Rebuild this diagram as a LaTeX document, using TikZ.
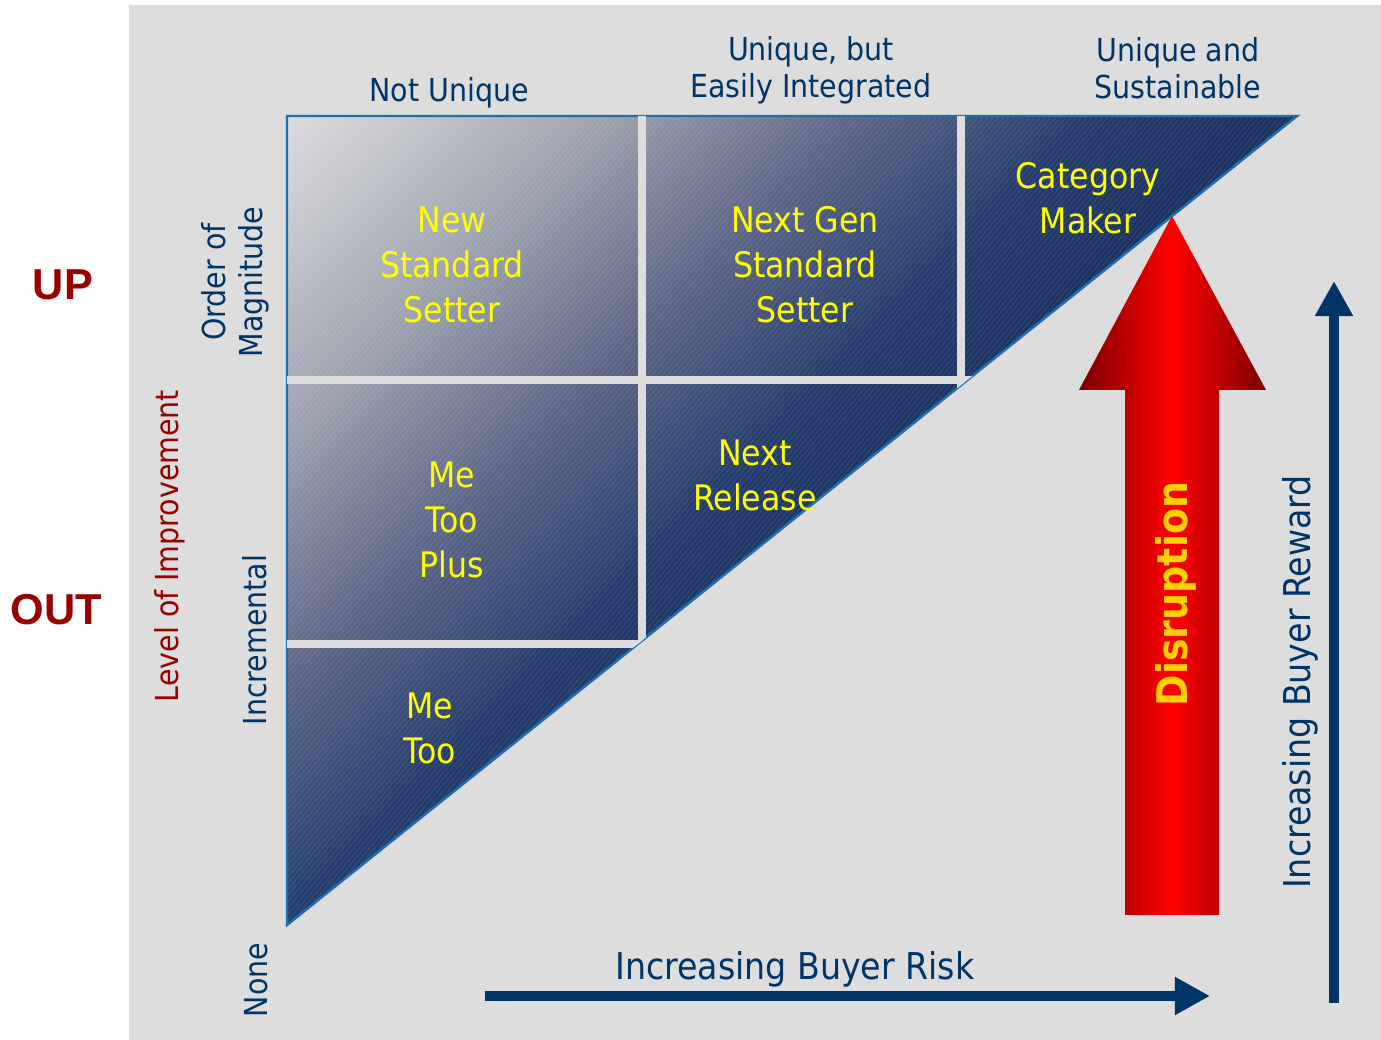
\documentclass[tikz,border=0pt]{standalone}
\usepackage{fontspec}
\IfFontExistsTF{DejaVu Sans Condensed}
  {\setmainfont{DejaVu Sans Condensed}}
  {\setmainfont{DejaVu Sans}}
\newfontfamily\headfont{Liberation Sans}
\usetikzlibrary{arrows.meta}
\definecolor{PanelGray}{HTML}{DDDDDD}
\definecolor{AxisNavy}{HTML}{003366}
\definecolor{LevelRed}{HTML}{990000}
\definecolor{EdgeBlue}{HTML}{1F6FAA}
\definecolor{CellYellow}{HTML}{FFFF00}
\definecolor{DisruptGold}{HTML}{FFD000}
\definecolor{ShadeA}{HTML}{DCDCDE}
\definecolor{ShadeB}{HTML}{A2A6B2}
\definecolor{ShadeC}{HTML}{5F6888}
\definecolor{ShadeD}{HTML}{253D6C}
\definecolor{ShadeE}{HTML}{1A3363}
\definecolor{ArrowDark}{HTML}{7A0000}
\definecolor{ArrowBright}{HTML}{FF0000}
\pgfdeclarehorizontalshading{cellfade}{100bp}{color(0bp)=(ShadeA);
  color(25bp)=(ShadeA); color(39.5bp)=(ShadeB); color(52bp)=(ShadeC);
  color(63.7bp)=(ShadeD); color(72bp)=(ShadeE); color(100bp)=(ShadeE)}

\begin{document}
\begin{tikzpicture}[x=0.01cm,y=-0.01cm,
    cell/.style={text=CellYellow,align=center,inner sep=0pt,
      font=\fontsize{10}{12.8}\selectfont},
    axislabel/.style={text=AxisNavy,align=center,inner sep=0pt,
      font=\fontsize{9}{10.4}\selectfont},
    trend/.style={text=AxisNavy,inner sep=0pt,
      font=\fontsize{10.5}{12}\selectfont},
    level/.style={text=LevelRed,inner sep=0pt,
      font=\headfont\bfseries\fontsize{12.3}{14}\selectfont},
    hatch/.style={draw=white,line width=0.3pt,draw opacity=0.09},
    gap/.style={draw=PanelGray,line width=2.3pt},
    trendarrow/.style={draw=AxisNavy,line width=2.85pt,
      -{Triangle[length=10pt,width=10.2pt]}}
  ]
  \useasboundingbox (0,0) rectangle (1381,1040);
  \fill[PanelGray] (129,5) rectangle (1381,1040);

  \coordinate (tl) at (287,116);
  \coordinate (tr) at (1297,116);
  \coordinate (bl) at (287,925);

  % staircase of cells
  \begin{scope}
    \clip (tl) -- (tr) -- (bl) -- cycle;
    \shade[shading=cellfade,transform canvas={rotate around={-45:(tl)}}]
      (287,-620) rectangle (1017,850);
    \foreach \hx in {-392,-386.8,...,1297}
      \draw[hatch] (\hx,925) -- ++(679,-809);
  \end{scope}
  \draw[EdgeBlue,line width=0.7pt] (tl) -- (tr) -- (bl) -- cycle;
  \begin{scope}
    \clip (tl) -- (tr) -- (bl) -- cycle;
    \draw[gap] (642,116) -- (642,925);
    \draw[gap] (961,116) -- (961,925);
    \draw[gap] (287,380) -- (1297,380);
    \draw[gap] (287,644) -- (1297,644);
  \end{scope}

  \node[cell] (newstd) at (452,265) {New\\Standard\\Setter};
  \node[cell] (nextgen) at (805,265) {Next Gen\\Standard\\Setter};
  \node[cell] (catmaker) at (1088,198) {Category\\Maker};
  \node[cell] (metooplus) at (452,520) {Me\\Too\\Plus};
  \node[cell] (nextrel) at (755,475) {Next\\Release};
  \node[cell] (metoo) at (430,728) {Me\\Too};

  \node[axislabel,anchor=base] (notunique) at (449,102) {Not Unique};
  \node[axislabel] (integrated) at (811,70) {Unique, but\\Easily Integrated};
  \node[axislabel] (sustainable) at (1178,68) {Unique and\\Sustainable};

  \node[axislabel,rotate=90] (magnitude) at (235,282) {Order of\\Magnitude};
  \node[axislabel,rotate=90] (incremental) at (255,640) {Incremental};
  \node[axislabel,rotate=90] (none) at (256,980) {None};
  \node[axislabel,rotate=90,text=LevelRed] (improve) at (170,546)
    {Level of Improvement};

  \node[level,anchor=base] (up) at (63,300) {UP};
  \node[level,anchor=base] (out) at (56,625) {OUT};

  % buyer risk / reward axes
  \coordinate (riskfrom) at (485,996);
  \coordinate (riskto) at (1210,996);
  \draw[trendarrow] (riskfrom) -- (riskto);
  \node[trend,anchor=base] (risk) at (795,979) {Increasing Buyer Risk};
  \coordinate (rewardfrom) at (1334,1003);
  \coordinate (rewardto) at (1334,281);
  \draw[trendarrow] (rewardfrom) -- (rewardto);
  \node[trend,rotate=90] (reward) at (1300,682) {Increasing Buyer Reward};

  % disruption arrow
  \shade[left color=ArrowDark,right color=ArrowDark,middle color=ArrowBright]
    (1125,915) -- (1125,390) -- (1079,390) -- (1172,216) -- (1266,390)
    -- (1219,390) -- (1219,915) -- cycle;
  \node[rotate=90,text=DisruptGold,inner sep=0pt,
    font=\bfseries\fontsize{12}{14}\selectfont] (disrupt) at (1176,594)
    {Disruption};
\end{tikzpicture}
\end{document}
